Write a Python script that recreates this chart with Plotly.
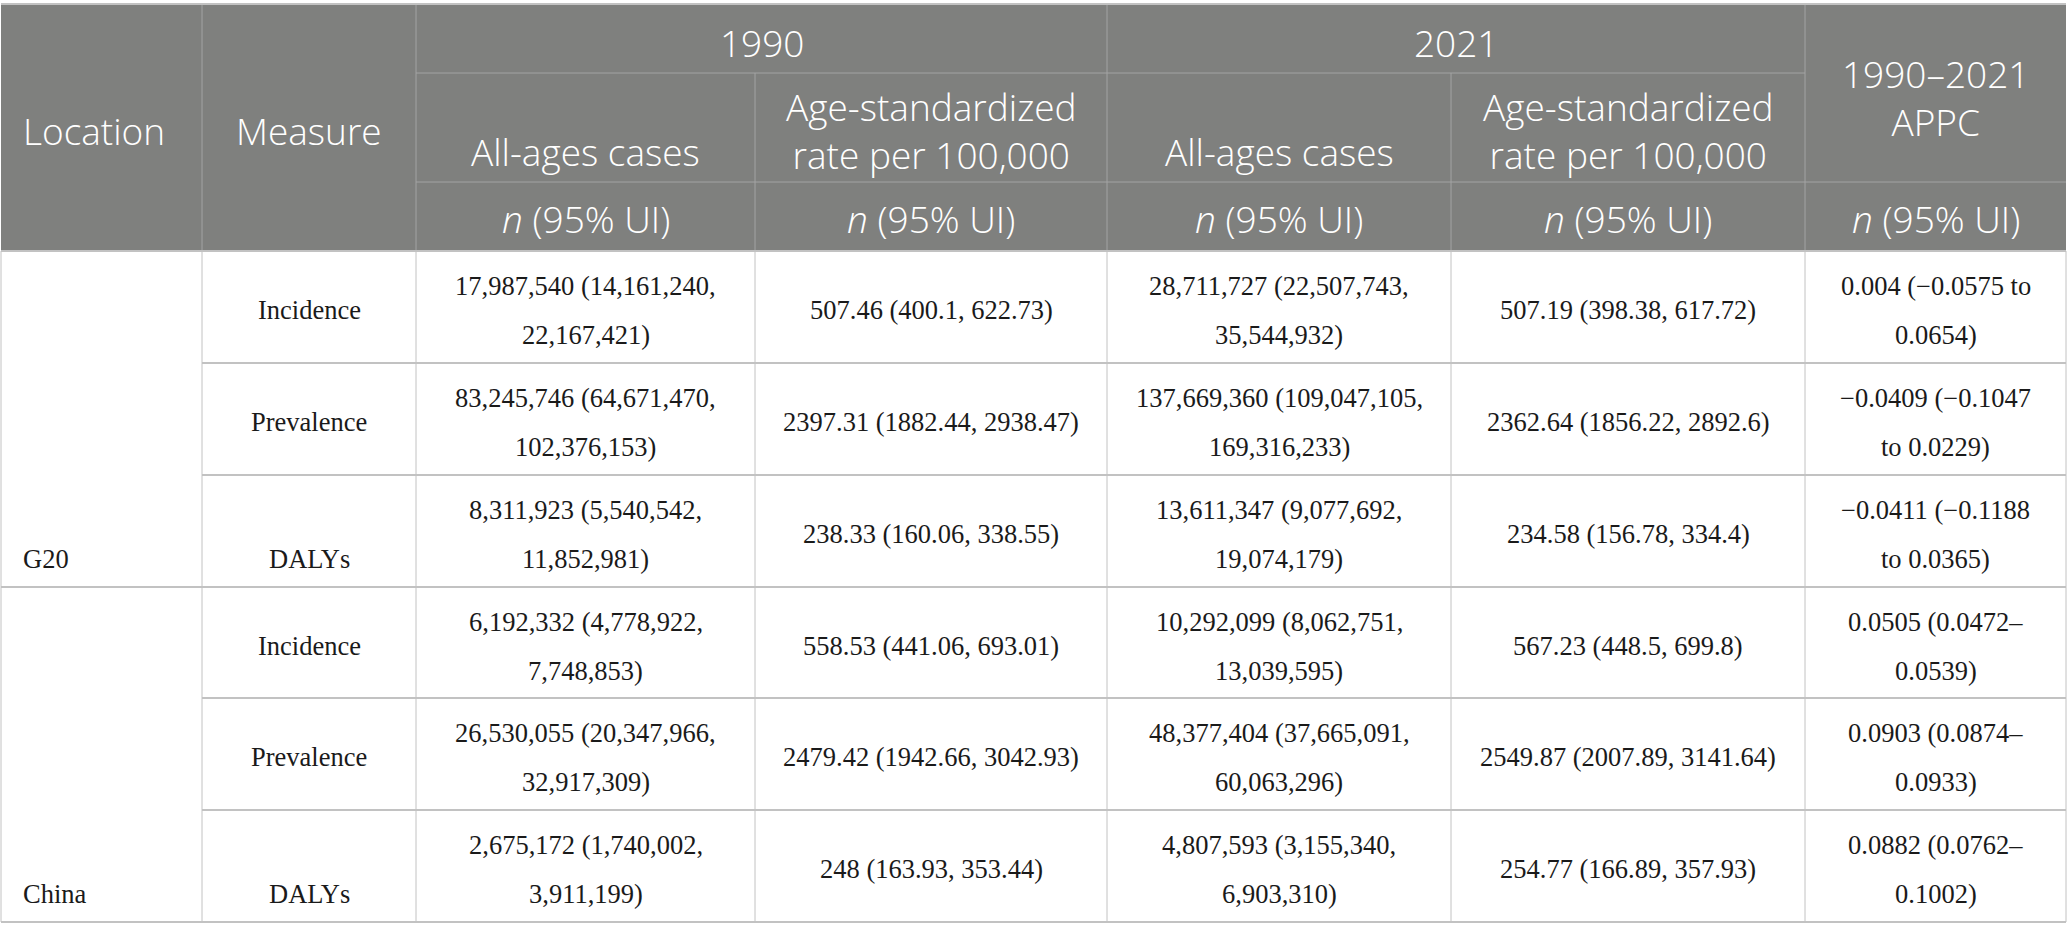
import plotly.graph_objects as go

W, H = 2067, 940

# ---- data ----
locations = ["G20", "China"]
measures = ["Incidence", "Prevalence", "DALYs"]

cases_1990 = [17987540, 83245746, 8311923, 6192332, 26530055, 2675172]
cases_1990_lo = [14161240, 64671470, 5540542, 4778922, 20347966, 1740002]
cases_1990_hi = [22167421, 102376153, 11852981, 7748853, 32917309, 3911199]

rate_1990 = [507.46, 2397.31, 238.33, 558.53, 2479.42, 248]
rate_1990_lo = [400.1, 1882.44, 160.06, 441.06, 1942.66, 163.93]
rate_1990_hi = [622.73, 2938.47, 338.55, 693.01, 3042.93, 353.44]

cases_2021 = [28711727, 137669360, 13611347, 10292099, 48377404, 4807593]
cases_2021_lo = [22507743, 109047105, 9077692, 8062751, 37665091, 3155340]
cases_2021_hi = [35544932, 169316233, 19074179, 13039595, 60063296, 6903310]

rate_2021 = [507.19, 2362.64, 234.58, 567.23, 2549.87, 254.77]
rate_2021_lo = [398.38, 1856.22, 156.78, 448.5, 2007.89, 166.89]
rate_2021_hi = [617.72, 2892.6, 334.4, 699.8, 3141.64, 357.93]

appc = [0.004, -0.0409, -0.0411, 0.0505, 0.0903, 0.0882]
appc_lo = [-0.0575, -0.1047, -0.1188, 0.0472, 0.0874, 0.0762]
appc_hi = [0.0654, 0.0229, 0.0365, 0.0539, 0.0933, 0.1002]
appc_sep = [" to ", "–"]  # per location

# ---- layout ----
col_x = [1, 202, 416, 755, 1107, 1451, 1805, 2066]
head_y = [4, 73, 182, 251]
row_y = [251, 363, 475, 587, 698, 810, 922]

HEAD_FILL = "#7f807e"
HEAD_LINE = "#a3a3a3"
BODY_LINE = "#c2c2c2"
HEAD_FONT = dict(family="Open Sans", size=37, color="white", weight=300)
BODY_FONT = dict(family="Liberation Serif", size=26.5, color="#1a1a1a")


def num(v):
    return str(v).replace("-", "−")


def wrap(text, maxlen=17):
    # break after a space or an en dash, keeping the first line short
    best = None
    for i, ch in enumerate(text):
        if ch == " " and i <= maxlen:
            best = (text[:i], text[i + 1:])
        elif ch == "–" and i + 1 <= maxlen:
            best = (text[:i + 1], text[i + 1:])
    return best if best else (text, "")


fig = go.Figure()
shapes = []
ann = []


def text(x, y, s, font, xanchor="center"):
    ann.append(dict(x=x, y=y, xref="x", yref="y", text=s, showarrow=False,
                    xanchor=xanchor, yanchor="middle", font=font))


def line(x0, y0, x1, y1, color, width=1):
    shapes.append(dict(type="line", xref="x", yref="y", x0=x0, y0=y0, x1=x1, y1=y1,
                       line=dict(color=color, width=width), layer="above"))


def mid(a, b):
    return (a + b) / 2


# header background
shapes.append(dict(type="rect", xref="x", yref="y", x0=col_x[0], x1=col_x[-1],
                   y0=head_y[0], y1=head_y[-1], fillcolor=HEAD_FILL,
                   line=dict(width=0), layer="below"))

# header lines
for x in [col_x[1], col_x[2], col_x[4], col_x[6]]:
    line(x, head_y[0], x, head_y[-1], HEAD_LINE)
for x in [col_x[3], col_x[5]]:
    line(x, head_y[1], x, head_y[-1], HEAD_LINE)
line(col_x[2], head_y[1], col_x[6], head_y[1], HEAD_LINE)
line(col_x[2], head_y[2], col_x[-1], head_y[2], HEAD_LINE)

# header text
text(col_x[0] + 20, 130, "Location", HEAD_FONT, xanchor="left")
text(mid(col_x[1], col_x[2]), 130, "Measure", HEAD_FONT)
text(mid(col_x[2], col_x[4]), 42, "1990", HEAD_FONT)
text(mid(col_x[4], col_x[6]), 42, "2021", HEAD_FONT)
text(mid(col_x[6], col_x[7]), 97, "1990–2021<br>APPC", HEAD_FONT)
for c in [2, 4]:
    text(mid(col_x[c], col_x[c + 1]), 151, "All-ages cases", HEAD_FONT)
    text(mid(col_x[c + 1], col_x[c + 2]), 130, "Age-standardized<br>rate per 100,000", HEAD_FONT)
for c in range(2, 7):
    text(mid(col_x[c], col_x[c + 1]), 218, "<i>n</i> (95% UI)", HEAD_FONT)

# body lines
for x in col_x:
    line(x, row_y[0], x, row_y[-1], BODY_LINE)
for i, y in enumerate(row_y):
    x0 = col_x[0] if i % 3 == 0 else col_x[1]
    line(x0, y, col_x[-1], y, BODY_LINE, width=2)
line(col_x[0], head_y[0], col_x[-1], head_y[0], BODY_LINE, width=2)

# body text
for i in range(len(cases_1990)):
    top = row_y[i]
    y1, y2, ym = top + 35, top + 84, top + 59
    loc = i // 3
    m = i % 3
    if m == 2:
        text(col_x[0] + 20, y2, locations[loc], BODY_FONT, xanchor="left")
        text(mid(col_x[1], col_x[2]), y2, measures[m], BODY_FONT)
    else:
        text(mid(col_x[1], col_x[2]), ym, measures[m], BODY_FONT)

    for c, (v, lo, hi) in [(2, (cases_1990, cases_1990_lo, cases_1990_hi)),
                           (4, (cases_2021, cases_2021_lo, cases_2021_hi))]:
        text(mid(col_x[c], col_x[c + 1]), y1, f"{v[i]:,} ({lo[i]:,},", BODY_FONT)
        text(mid(col_x[c], col_x[c + 1]), y2, f"{hi[i]:,})", BODY_FONT)
    for c, (v, lo, hi) in [(3, (rate_1990, rate_1990_lo, rate_1990_hi)),
                           (5, (rate_2021, rate_2021_lo, rate_2021_hi))]:
        text(mid(col_x[c], col_x[c + 1]), ym, f"{v[i]} ({lo[i]}, {hi[i]})", BODY_FONT)

    full = f"{num(appc[i])} ({num(appc_lo[i])}{appc_sep[loc]}{num(appc_hi[i])})"
    a, b = wrap(full)
    text(mid(col_x[6], col_x[7]), y1, a, BODY_FONT)
    text(mid(col_x[6], col_x[7]), y2, b, BODY_FONT)

fig.update_layout(
    width=W, height=H,
    margin=dict(l=0, r=0, t=0, b=0),
    paper_bgcolor="white", plot_bgcolor="white",
    xaxis=dict(range=[0, W], visible=False, fixedrange=True),
    yaxis=dict(range=[H, 0], visible=False, fixedrange=True),
    shapes=shapes, annotations=ann, showlegend=False,
)

# drop the browser's default page margin so the table sits at the window corner
fig.write_html("out.html", config={"displayModeBar": False},
               post_script="document.body.style.margin='0';")
